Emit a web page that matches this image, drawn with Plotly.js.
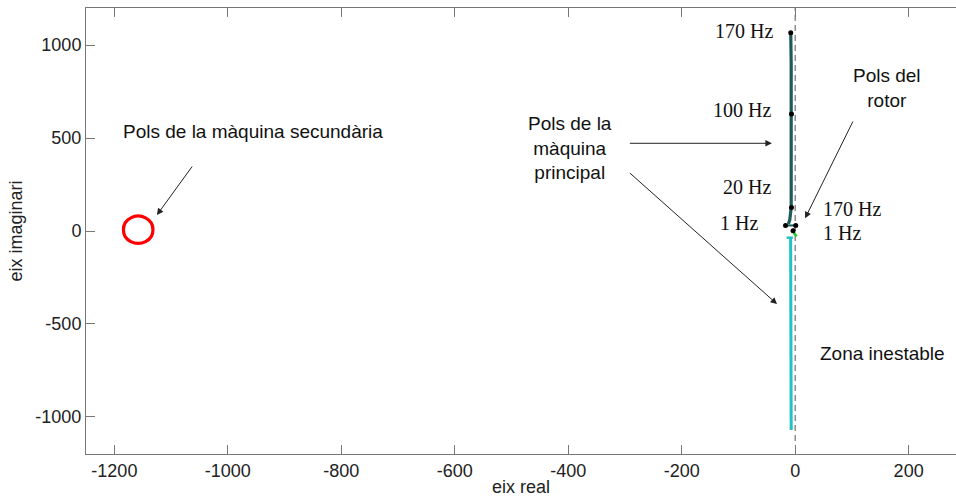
<!DOCTYPE html>
<html>
<head>
<meta charset="utf-8">
<script src="https://cdn.plot.ly/plotly-3.0.1.min.js"></script>
<style>html,body{margin:0;padding:0;background:#fff;}#chart{width:956px;height:497px;}</style>
</head>
<body>
<div id="chart"></div>
<script>
// Main machine poles (upper branch)
const mainX = [-12, -9.5, -7, -6.5, -6.5, -7, -7.8];
const mainY = [38, 60, 127, 400, 630, 900, 1067];
const mainBaseX = [-17, -8, 1];
const mainBaseY = [30, 30, 30];
// Conjugate branch (lower)
const conjX = [-8, -8, -7.5, -7];
const conjY = [-36, -300, -700, -1071];
const conjBaseX = [-15, -4];
const conjBaseY = [-36, -36];
// Rotor poles
const rotorRedX = [-4.5, -2];
const rotorRedY = [12, 0];
const rotorGreenX = [-3.7, 2.5];
const rotorGreenY = [-3, -30];
// Marked frequencies
const markX = [-7.8, -6.5, -6.5, -17, 1, -3.7];
const markY = [1067, 630, 127, 30, 30, 2];
// Secondary machine poles (read around the red ring)
const secX = [-1132, -1135, -1145, -1158, -1171, -1181, -1184, -1181, -1171, -1158, -1145, -1135, -1132];
const secY = [7, 44, 71, 81, 71, 44, 7, -30, -57, -67, -57, -30, 7];
// Stability boundary
const boundX = [0, 0];
const boundY = [-1130, 1200];
// Tick values
const xTicks = [-1200, -1000, -800, -600, -400, -200, 0, 200];
const yTicks = [-1000, -500, 0, 500, 1000];

const teal = '#1d5a5a';
const cyan = '#1fc3c3';

const traces = [
  {x: boundX, y: boundY, mode: 'lines', line: {color: '#555', width: 1, dash: '6px,4px'}, hoverinfo: 'skip'},
  {x: secX, y: secY, mode: 'lines', line: {color: '#ff0000', width: 3.2, shape: 'spline'}},
  {x: conjX, y: conjY, mode: 'lines', line: {color: cyan, width: 3}},
  {x: conjBaseX, y: conjBaseY, mode: 'lines', line: {color: cyan, width: 2.5}},
  {x: mainX, y: mainY, mode: 'lines', line: {color: teal, width: 3.2}},
  {x: mainBaseX, y: mainBaseY, mode: 'lines', line: {color: teal, width: 2}},
  {x: rotorRedX, y: rotorRedY, mode: 'lines', line: {color: '#ff0000', width: 2.5}},
  {x: rotorGreenX, y: rotorGreenY, mode: 'lines', line: {color: '#22cc22', width: 2.5}},
  {x: markX, y: markY, mode: 'markers', marker: {color: '#000', size: 5}}
];

const sans = 'Liberation Sans, Arial, sans-serif';
const serif = 'Liberation Serif, Times New Roman, serif';
const txt = (text, x, y, xa, family, size) => ({
  text: text, x: x, y: y, xref: 'x', yref: 'y', showarrow: false,
  xanchor: xa, yanchor: 'middle',
  font: {family: family || sans, size: size || 19, color: '#111'}
});
const arrow = (hx, hy, tx, ty) => ({
  text: '', x: hx, y: hy, ax: tx, ay: ty, xref: 'x', yref: 'y', axref: 'x', ayref: 'y',
  showarrow: true, arrowhead: 2, arrowsize: 1.3, arrowwidth: 1, arrowcolor: '#222'
});

const annotations = [
  txt('Pols de la màquina secundària', -956, 533, 'center'),
  arrow(-1125, 86, -1061, 355),
  txt('Pols de la<br>màquina<br>principal', -397, 447, 'center'),
  arrow(-41, 472, -294, 472),
  arrow(-32, -393, -294, 319),
  txt('Pols del<br>rotor', 162, 772, 'center'),
  arrow(17.5, 68, 103, 597),
  txt('170 Hz', -35, 1076, 'right', serif, 20),
  txt('100 Hz', -39.5, 651, 'right', serif, 20),
  txt('20 Hz', -39.5, 237, 'right', serif, 20),
  txt('1 Hz', -62, 43, 'right', serif, 20),
  txt('170 Hz', 46, 117, 'left', serif, 20),
  txt('1 Hz', 46, -9, 'left', serif, 20),
  txt('Zona inestable', 40, -658, 'left')
];

const axisFont = {family: sans, size: 18, color: '#222'};

const layout = {
  width: 956, height: 497,
  margin: {l: 86, r: 0, t: 8, b: 43},
  paper_bgcolor: '#fff', plot_bgcolor: '#fff',
  showlegend: false,
  xaxis: {
    range: [-1250, 283.5], tickvals: xTicks, ticktext: xTicks.map(String),
    ticks: 'inside', ticklen: 9, tickcolor: '#777', tickwidth: 1,
    showline: true, linecolor: '#777', linewidth: 1, mirror: 'ticks',
    showgrid: false, zeroline: false, tickfont: axisFont,
    title: {text: 'eix real', font: axisFont, standoff: 2}
  },
  yaxis: {
    range: [-1200, 1200], tickvals: yTicks, ticktext: yTicks.map(String),
    ticks: 'inside', ticklen: 9, tickcolor: '#777', tickwidth: 1,
    showline: true, linecolor: '#777', linewidth: 1,
    showgrid: false, zeroline: false, tickfont: axisFont,
    title: {text: 'eix imaginari', font: axisFont, standoff: 8}
  },
  annotations: annotations
};

Plotly.newPlot('chart', traces, layout, {staticPlot: true, displayModeBar: false});
</script>
</body>
</html>
